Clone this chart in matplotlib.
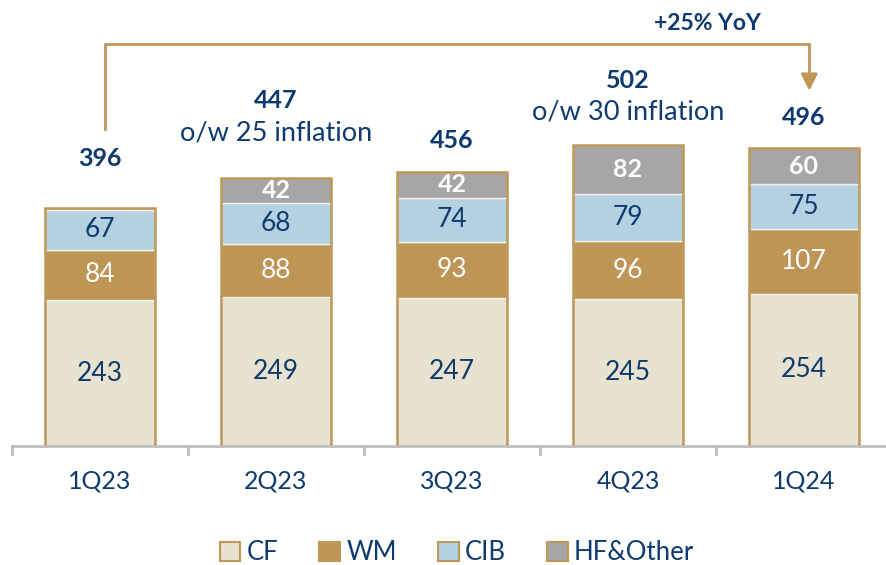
import matplotlib
matplotlib.use("Agg")
import matplotlib.pyplot as plt
from matplotlib.patches import Patch
import numpy as np

categories = ["1Q23", "2Q23", "3Q23", "4Q23", "1Q24"]
cf = [243, 249, 247, 245, 254]
wm = [84, 88, 93, 96, 107]
cib = [67, 68, 74, 79, 75]
hf = [2, 42, 42, 82, 60]
totals = [396, 447, 456, 502, 496]
inflation_notes = ["", "o/w 25 inflation", "", "o/w 30 inflation", ""]
yoy_text = "+25% YoY"
series_names = ["CF", "WM", "CIB", "HF&Other"]

# layout (not data)
total_label_y = [480, 575, 510, 610, 547]
note_label_y = [None, 522, None, 557, None]

NAVY = "#0E3A6E"
GOLD = "#BF9757"
C_CF = "#E8E2D0"
C_WM = "#BE9555"
C_CIB = "#B3D1E1"
C_HF = "#A6A6A6"
FONT = "Lato"

plt.rcParams['font.family'] = [FONT, 'DejaVu Sans']

fig = plt.figure(figsize=(8.86, 5.65), dpi=100)
ax = fig.add_axes([12/886, 119/565, 880/886, 420/565])
ax.set_xlim(-0.5, 4.5)
ax.set_ylim(0, 700)
ax.axis("off")

x = np.arange(len(categories))
w = 0.63
b1 = np.array(cf)
b2 = b1 + np.array(wm)
b3 = b2 + np.array(cib)
ax.bar(x, cf, w, color=C_CF, edgecolor="#F4F1E8", linewidth=1, zorder=2)
ax.bar(x, wm, w, bottom=b1, color=C_WM, edgecolor="#F4F1E8", linewidth=1, zorder=2)
ax.bar(x, cib, w, bottom=b2, color=C_CIB, edgecolor="#F4F1E8", linewidth=1, zorder=2)
ax.bar(x, hf, w, bottom=b3, color=C_HF, edgecolor="#F4F1E8", linewidth=1, zorder=2)
ax.bar(x, b3 + np.array(hf), w, fill=False, edgecolor=GOLD, linewidth=1.8, zorder=3)

# baseline axis and ticks
ax.plot([-0.5, 4.6], [0, 0], color="#BFBFBF", lw=2, zorder=4, clip_on=False)
for b in np.arange(-0.5, 4.5, 1.0):
    ax.plot([b, b], [0, -14], color="#BFBFBF", lw=2, clip_on=False)
for i, c in enumerate(categories):
    ax.text(i, -58, c, ha="center", va="center", fontsize=18, color=NAVY)

SEG = 19
for i in range(len(categories)):
    ax.text(i, cf[i] / 2, str(cf[i]), ha="center", va="center", fontsize=SEG, color=NAVY, zorder=5)
    ax.text(i, b1[i] + wm[i] / 2, str(wm[i]), ha="center", va="center", fontsize=SEG, color="white", zorder=5)
    ax.text(i, b2[i] + cib[i] / 2, str(cib[i]), ha="center", va="center", fontsize=SEG, color=NAVY, zorder=5)
    if hf[i] >= 20:
        ax.text(i, b3[i] + hf[i] / 2, str(hf[i]), ha="center", va="center", fontsize=18,
                color="white", fontweight="bold", zorder=5)
    ax.text(i, total_label_y[i], str(totals[i]), ha="center", va="center", fontsize=18,
            color=NAVY, fontweight="bold")
    if inflation_notes[i]:
        ax.text(i, note_label_y[i], inflation_notes[i], ha="center", va="center", fontsize=19.5, color=NAVY)

# YoY arrow
xl, xr = 0.03, 4.03
ax.plot([xl, xl, xr, xr], [528, 670, 670, 615], color=GOLD, lw=2, clip_on=False,
        solid_joinstyle="miter")
ax.annotate("", xy=(xr, 592), xytext=(xr, 620),
            arrowprops=dict(arrowstyle="-|>,head_width=0.5,head_length=1.0", color=GOLD, lw=2,
                            shrinkA=0, shrinkB=0), annotation_clip=False)
ax.text(3.45, 705, yoy_text, ha="center", va="center", fontsize=16.5, color=NAVY,
        fontweight="bold", clip_on=False)

handles = [Patch(facecolor=c, edgecolor=GOLD, linewidth=1.5) for c in (C_CF, C_WM, C_CIB, C_HF)]
leg = fig.legend(handles, series_names, loc="center", bbox_to_anchor=(457/886, 1 - 553/565),
                 ncol=4, frameon=False, fontsize=18.5, handlelength=0.8, handleheight=0.8,
                 handletextpad=0.25, columnspacing=1.6, labelcolor=NAVY)

fig.savefig("out.png", dpi=100)
